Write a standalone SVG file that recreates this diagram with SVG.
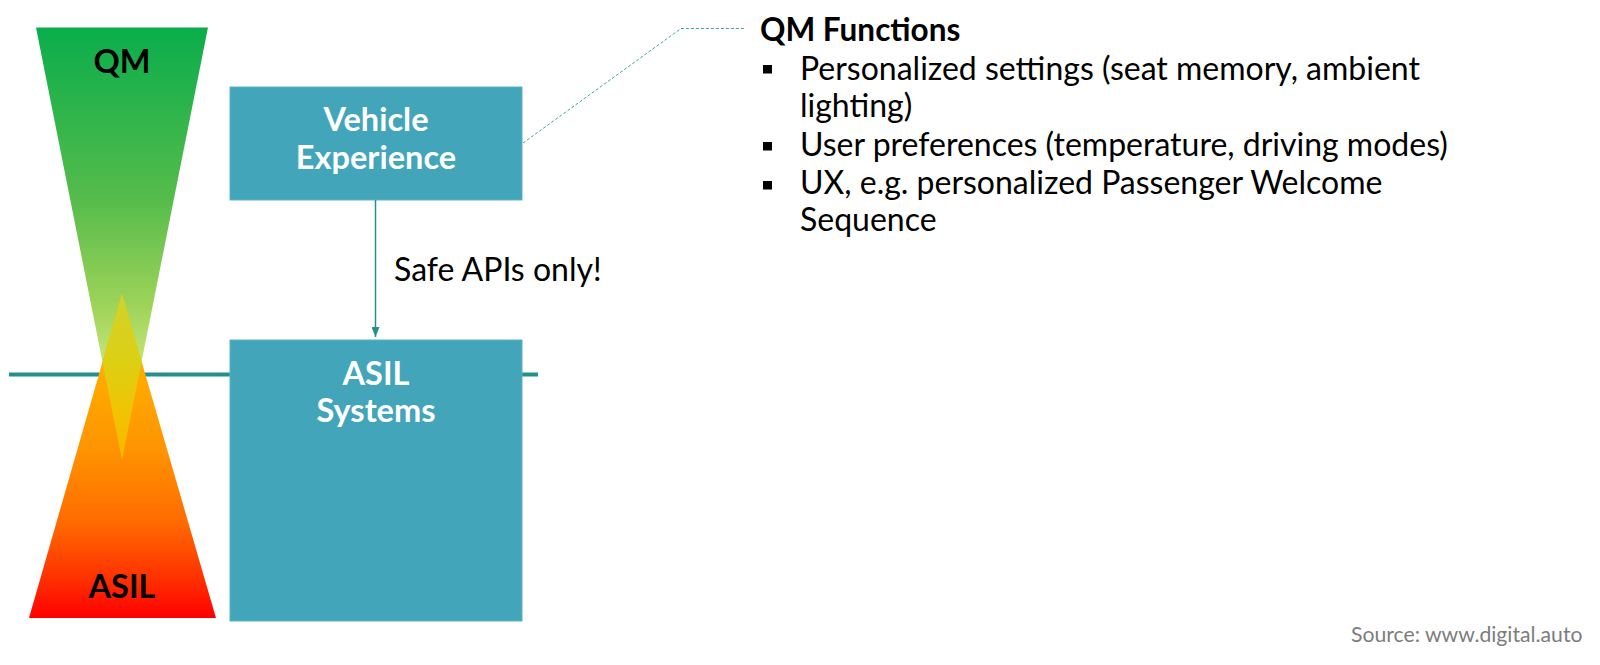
<svg xmlns="http://www.w3.org/2000/svg" width="1600" height="665" viewBox="0 0 1600 665">
<style>
.box{fill:#43a5ba;stroke:#5cb3c5;stroke-width:1}
.boxtxt{font-family:Lato,"Liberation Sans",sans-serif;font-weight:bold;font-size:32.5px;fill:#ffffff;text-anchor:middle}
.lbl{font-family:Lato,"Liberation Sans",sans-serif;font-weight:bold;font-size:32.5px;fill:#000000;text-anchor:middle}
.body{font-family:Lato,"Liberation Sans",sans-serif;font-size:32px;fill:#000000}
.head{font-family:Lato,"Liberation Sans",sans-serif;font-weight:bold;font-size:31.5px;fill:#000000}
.src{font-family:Lato,"Liberation Sans",sans-serif;font-size:21.2px;fill:#7d7d7d}
.teal{stroke:#21908f;stroke-width:4;fill:none}
.bul{fill:#000000}
</style>
<defs>
<linearGradient id="gTop" x1="0" y1="27.5" x2="0" y2="460" gradientUnits="userSpaceOnUse">
<stop offset="0" stop-color="#0aad4c"/>
<stop offset="0.4" stop-color="#56bc4b"/>
<stop offset="0.65" stop-color="#a0d45a"/>
<stop offset="0.78" stop-color="#c6e678"/>
<stop offset="1" stop-color="#e0f090"/>
</linearGradient>
<linearGradient id="gBot" x1="0" y1="294" x2="0" y2="618" gradientUnits="userSpaceOnUse">
<stop offset="0" stop-color="#ffc000"/>
<stop offset="0.25" stop-color="#ffab00"/>
<stop offset="0.48" stop-color="#ff9400"/>
<stop offset="0.7" stop-color="#ff6c00"/>
<stop offset="0.88" stop-color="#ff3000"/>
<stop offset="1" stop-color="#ff0000"/>
</linearGradient>
<linearGradient id="gMid" x1="0" y1="294" x2="0" y2="460" gradientUnits="userSpaceOnUse">
<stop offset="0" stop-color="#d2d22a"/>
<stop offset="0.4" stop-color="#dcd014"/>
<stop offset="0.75" stop-color="#f2c200"/>
<stop offset="1" stop-color="#f8b600"/>
</linearGradient>
<marker id="arr" markerWidth="10" markerHeight="8" refX="10" refY="4" orient="auto" markerUnits="userSpaceOnUse">
<path d="M0,0 L10,4 L0,8 z" fill="#21908f"/>
</marker>
</defs>
<rect width="1600" height="665" fill="#ffffff"/>

<g id="boundary">
<line class="teal" x1="9" y1="374.5" x2="230" y2="374.5"/>
<line class="teal" x1="522" y1="374.5" x2="538" y2="374.5"/>
</g>

<g id="scale">
<polygon points="36,27.5 208,27.5 122,460" fill="url(#gTop)"/>
<polygon points="122,294 216,618 29,618" fill="url(#gBot)"/>
<polygon points="122,294 141.6,361.5 122,460 102.5,361.9" fill="url(#gMid)"/>
<text class="lbl" x="122" y="73">QM</text>
<text class="lbl" x="122" y="598">ASIL</text>
</g>

<g id="vehicle-experience">
<rect class="box" x="230" y="87" width="292" height="113"/>
<text class="boxtxt" x="376" y="131">Vehicle</text>
<text class="boxtxt" x="376" y="169">Experience</text>
</g>

<g id="asil-systems">
<rect class="box" x="230" y="340" width="292" height="281"/>
<text class="boxtxt" x="376" y="385">ASIL</text>
<text class="boxtxt" x="376" y="422">Systems</text>
</g>

<g id="connectors">
<line x1="375.5" y1="200" x2="375.5" y2="337" stroke="#21908f" stroke-width="1.5" marker-end="url(#arr)"/>
<polyline points="523,143 681,28.5 745,28.5" fill="none" stroke="#3fa3a3" stroke-width="1" stroke-dasharray="3,2"/>
</g>
<text class="body" x="394" y="281">Safe APIs only!</text>

<g id="qm-functions">
<text class="head" x="760" y="41">QM Functions</text>
<rect class="bul" x="763" y="65" width="9" height="8.5"/>
<text class="body" x="800" y="80">Personalized settings (seat memory, ambient</text>
<text class="body" x="800" y="117">lighting)</text>
<rect class="bul" x="763" y="142" width="9" height="8.5"/>
<text class="body" x="800" y="156">User preferences (temperature, driving modes)</text>
<rect class="bul" x="763" y="181" width="9" height="8.5"/>
<text class="body" x="800" y="194">UX, e.g. personalized Passenger Welcome</text>
<text class="body" x="800" y="231">Sequence</text>
</g>

<text class="src" x="1351" y="642">Source: www.digital.auto</text>
</svg>
